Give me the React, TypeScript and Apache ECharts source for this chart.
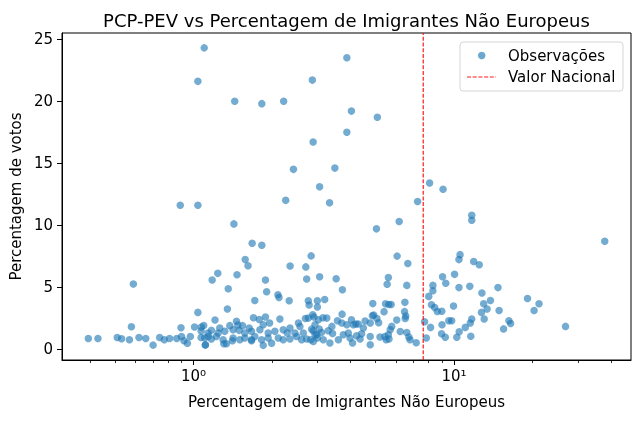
import { useEffect, useRef } from "react";
import * as echarts from "echarts";

// Percentagem de Imigrantes Não Europeus (x) and Percentagem de votos PCP-PEV (y)
const pctImigrantes = [
  1.10, 3.88, 1.04, 2.86, 1.44, 1.83, 2.22, 4.04, 5.08, 3.88,
  2.88, 2.42, 3.49, 3.05, 8.06, 9.08, 2.26, 3.33, 7.25, 0.89,
  1.04, 11.7, 11.7, 6.16, 1.43, 5.04, 37.9, 1.68, 1.83, 2.83,
  6.05, 10.55, 10.45, 1.58, 1.62, 11.9, 6.65, 12.5, 2.35, 2.70,
  1.24, 1.47, 10.05, 9.04, 3.05, 5.6, 0.588, 1.18, 1.89, 2.72,
  3.53, 5.54, 6.59, 9.3, 8.3, 10.45, 11.5, 14.75, 1.36, 3.73,
  1.91, 8.3, 12.8, 2.11, 2.13, 8.0, 19.15, 1.72, 2.33, 2.76,
  2.99, 3.19, 13.8, 6.48, 4.88, 5.46, 5.62, 5.74, 21.2, 13.0,
  2.78, 8.2, 9.96, 8.43, 2.99, 1.35, 13.4, 14.9, 20.3, 8.63,
  8.98, 5.39, 6.46, 1.04, 12.75, 3.72, 4.92, 2.87, 6.53, 4.86,
  1.70, 1.89, 2.9, 3.14, 6.5, 5.06, 3.25, 2.69, 13.06, 11.7,
  1.79, 4.04, 1.21, 6.03, 9.55, 9.8, 16.25, 3.57, 4.56, 7.71,
  2.53, 1.96, 5.14, 4.77, 3.71, 11.55, 16.5, 4.2, 4.29, 9.0,
  3.88, 4.11, 1.48, 26.8, 3.4, 5.77, 0.578, 1.01, 0.896, 8.13,
  11.05, 4.49, 15.5, 3.04, 5.69, 1.07, 2.88, 3.29, 6.22, 10.47,
  3.1, 6.59, 3.93, 3.42, 8.96, 4.42, 5.6, 3.76, 4.23, 11.6,
  10.25, 0.90, 0.973, 1.14, 4.77, 5.43, 5.2, 6.71, 9.26, 0.51,
  0.618, 0.742, 1.07, 3.99, 2.99, 7.83, 0.395, 0.43, 0.656, 0.81,
  0.863, 0.53, 4.36, 5.63, 3.6, 3.15, 2.82, 5.49, 6.78, 0.568,
  0.773, 0.92, 7.16, 4.08, 3.34, 0.948, 4.77, 0.70, 1.11,
  1.073, 1.095, 1.138, 1.172, 1.244, 1.262, 1.319, 1.379, 1.420, 1.463,
  1.498, 1.543, 1.575, 1.637, 1.671, 1.799, 1.853, 1.936, 2.054, 2.147,
  2.211, 2.291, 2.347, 2.452, 2.563, 2.641, 2.760, 2.843, 2.928, 2.972,
  3.016, 1.105, 1.172, 1.225, 1.300, 1.339, 1.420, 1.507, 1.575, 1.671,
  1.721, 1.826, 1.853, 1.936, 1.995, 2.116, 2.211, 2.347, 2.489, 2.602,
  2.720, 2.885, 2.928, 1.112, 1.308, 1.412, 1.671,
];

const pctVotos = [
  24.3, 23.5, 21.6, 21.7, 20.0, 19.8, 20.0, 19.2, 18.7, 17.5,
  16.7, 14.5, 14.6, 13.1, 13.4, 12.9, 12.0, 11.8, 11.9, 11.6,
  11.6, 10.8, 10.4, 10.3, 10.1, 9.7, 8.7, 8.54, 8.38, 7.52,
  7.5, 7.62, 7.22, 7.22, 6.73, 7.06, 6.9, 6.8, 6.71, 6.63,
  6.11, 6.0, 6.03, 5.84, 5.84, 5.77, 5.25, 5.58, 5.58, 5.66,
  5.67, 5.23, 5.14, 5.31, 5.14, 4.96, 5.06, 4.96, 4.87, 4.79,
  4.62, 4.70, 4.53, 4.38, 4.17, 4.25, 4.08, 3.92, 3.9, 3.9,
  3.9, 4.0, 3.92, 3.77, 3.67, 3.66, 3.6, 3.6, 3.66, 3.66,
  3.56, 3.58, 3.48, 3.36, 3.4, 3.23, 3.23, 3.12, 3.12, 3.03,
  3.05, 3.02, 3.02, 2.96, 2.96, 2.82, 2.75, 2.77, 2.67, 2.69,
  2.53, 2.59, 2.59, 2.53, 2.47, 2.46, 2.5, 2.47, 2.43, 2.42,
  2.39, 2.37, 2.34, 2.34, 2.29, 2.29, 2.28, 2.29, 2.26, 2.2,
  2.1, 2.1, 2.13, 2.1, 2.1, 2.1, 2.06, 2.02, 2.02, 1.96,
  1.96, 1.96, 1.94, 1.83, 1.83, 1.83, 1.8, 1.78, 1.72, 1.75,
  1.75, 1.7, 1.63, 1.62, 1.56, 1.45, 1.48, 1.48, 1.42, 1.4,
  1.34, 1.34, 1.29, 1.26, 1.24, 1.24, 1.16, 1.16, 1.08, 1.04,
  0.95, 1.02, 1.02, 1.02, 1.02, 1.02, 0.97, 0.97, 0.95, 0.94,
  0.94, 0.94, 0.94, 0.89, 0.89, 0.89, 0.86, 0.86, 0.86, 0.86,
  0.86, 0.83, 0.81, 0.81, 0.75, 0.75, 0.75, 0.75, 0.75, 0.75,
  0.75, 0.67, 0.51, 0.49, 0.49, 0.48, 0.35, 0.32, 0.32,
  1.78, 1.91, 1.29, 1.51, 1.29, 1.70, 1.43, 1.89, 1.56, 2.24,
  1.51, 1.89, 1.29, 1.70, 1.43, 1.56, 1.97, 1.29, 1.43, 2.42,
  1.56, 1.29, 1.70, 1.29, 1.83, 1.29, 2.50, 1.61, 1.97, 1.16,
  2.37, 0.89, 0.81, 1.02, 0.75, 0.43, 0.89, 0.75, 0.89, 0.75,
  1.02, 0.75, 0.30, 0.89, 0.48, 0.89, 0.75, 0.81, 1.02, 0.75,
  0.81, 0.62, 1.16, 0.35, 0.43, 0.67, 0.67,
];

const valorNacional = 7.62;
const xMajorTicks = [1, 10];
const xMinorTicks = [0.4, 0.5, 0.6, 0.7, 0.8, 0.9, 2, 3, 4, 5, 6, 7, 8, 9, 20, 30, 40];
const yTicks = [0, 5, 10, 15, 20, 25];
const xRange = [0.313, 47.8];
const yRange = [-0.88, 25.5];

const titleText = "PCP-PEV vs Percentagem de Imigrantes Não Europeus";
const xName = "Percentagem de Imigrantes Não Europeus";
const yName = "Percentagem de votos";
const legendNames = ["Observações", "Valor Nacional"];

const SUP: Record<string, string> = { "0": "⁰", "1": "¹", "2": "²", "3": "³", "-": "⁻" };
const supFmt = (v: number) =>
  "10" + String(Math.round(Math.log10(v))).split("").map((c) => SUP[c] ?? c).join("");

export default function App() {
  const ref = useRef<HTMLDivElement>(null);
  useEffect(() => {
    const chart = echarts.init(ref.current!, null, { renderer: "svg" });
    const points = pctImigrantes.map((x, i) => [x, pctVotos[i]]);
    const font = "DejaVu Sans";
    const red = "#ff0000";
    const fs = 15;
    chart.setOption({
      animation: false,
      textStyle: { fontFamily: font },
      title: {
        text: titleText,
        left: 341.5,
        top: 6,
        textAlign: "center",
        textStyle: { fontSize: 18, fontWeight: "normal", color: "#000", fontFamily: font },
      },
      grid: {
        left: 62,
        right: 9,
        top: 33,
        bottom: 62,
        show: true,
        borderColor: "#000",
        borderWidth: 1,
        backgroundColor: "transparent",
      },
      xAxis: [
        {
          type: "log",
          logBase: 10,
          min: xRange[0],
          max: xRange[1],
          position: "bottom",
          name: xName,
          nameLocation: "middle",
          nameGap: 34,
          nameTextStyle: { fontSize: fs, color: "#000", fontFamily: font },
          axisLine: { show: true, onZero: false, lineStyle: { color: "#000", width: 1 } },
          axisTick: { show: true, length: 5, lineStyle: { color: "#000", width: 1 }, customValues: xMajorTicks },
          axisLabel: {
            customValues: xMajorTicks,
            formatter: (v: number) => supFmt(v),
            fontSize: fs,
            color: "#000",
            margin: 8,
            fontFamily: font,
          },
          splitLine: { show: false },
          minorTick: { show: false },
        },
        {
          type: "log",
          logBase: 10,
          min: xRange[0],
          max: xRange[1],
          position: "bottom",
          gridIndex: 0,
          axisLine: { show: false, onZero: false },
          axisTick: { show: true, length: 3, lineStyle: { color: "#000", width: 0.8 }, customValues: xMinorTicks },
          axisLabel: { show: false },
          splitLine: { show: false },
        },
      ],
      yAxis: {
        type: "value",
        min: yRange[0],
        max: yRange[1],
        name: yName,
        nameLocation: "middle",
        nameGap: 38,
        nameTextStyle: { fontSize: fs, color: "#000", fontFamily: font },
        axisLine: { show: true, onZero: false, lineStyle: { color: "#000", width: 1 } },
        axisTick: { show: true, length: 5, lineStyle: { color: "#000", width: 1 }, customValues: yTicks },
        axisLabel: { customValues: yTicks, fontSize: fs, color: "#000", margin: 9, fontFamily: font },
        splitLine: { show: false },
      },
      series: [
        {
          name: legendNames[0],
          type: "scatter",
          xAxisIndex: 0,
          data: points,
          symbol: "circle",
          symbolSize: 7.5,
          itemStyle: { color: "#1f77b4", opacity: 0.62 },
          emphasis: { disabled: true },
        },
        {
          name: legendNames[1],
          type: "line",
          xAxisIndex: 0,
          data: [
            [valorNacional, yRange[0]],
            [valorNacional, yRange[1]],
          ],
          symbol: "none",
          lineStyle: { color: red, width: 1.2, type: [4, 1.7], opacity: 0.9 },
          z: 3,
        },
      ],
      graphic: [
        {
          type: "group",
          z: 100,
          children: [
            {
              type: "rect",
              shape: { x: 460, y: 42, width: 163, height: 49, r: 3 },
              style: { fill: "rgba(255,255,255,0.8)", stroke: "#d5d5d5", lineWidth: 1 },
            },
            {
              type: "circle",
              shape: { cx: 481.7, cy: 55.5, r: 3.75 },
              style: { fill: "#1f77b4", opacity: 0.65 },
            },
            {
              type: "line",
              shape: { x1: 467, y1: 77, x2: 496, y2: 77 },
              style: { stroke: red, lineWidth: 1.2, lineDash: [4, 1.7], opacity: 0.9 },
            },
            {
              type: "text",
              x: 508,
              y: 55.5,
              style: { text: legendNames[0], fontSize: fs, fill: "#000", fontFamily: font, verticalAlign: "middle" },
            },
            {
              type: "text",
              x: 508,
              y: 77,
              style: { text: legendNames[1], fontSize: fs, fill: "#000", fontFamily: font, verticalAlign: "middle" },
            },
          ],
        },
      ],
    });
    return () => chart.dispose();
  }, []);
  return <div ref={ref} style={{ position: "fixed", left: 0, top: 0, width: 640, height: 422 }} />;
}
